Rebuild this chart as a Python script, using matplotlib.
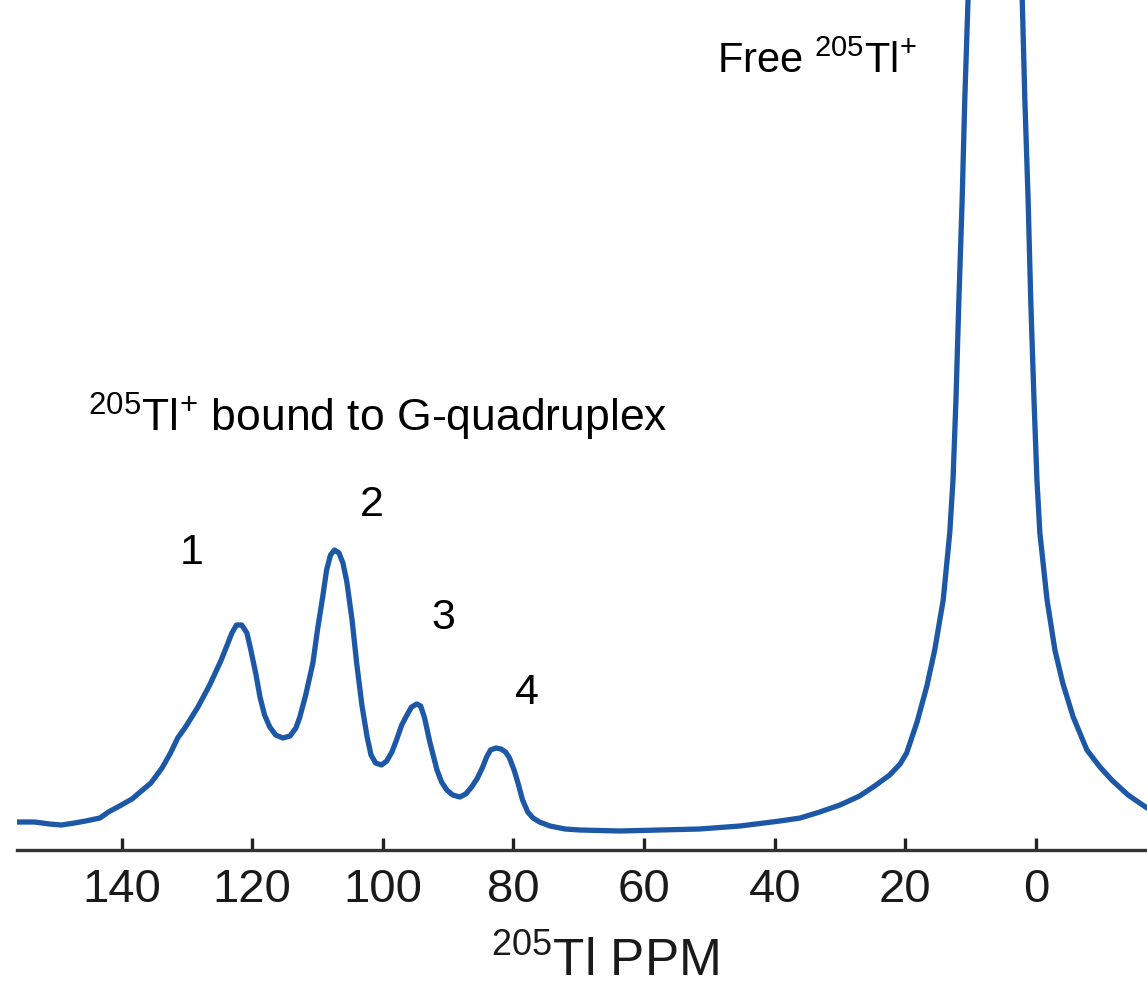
import numpy as np
import matplotlib.pyplot as plt

plt.rcParams['font.family'] = ['Liberation Sans', 'DejaVu Sans']
plt.rcParams['mathtext.fontset'] = 'custom'
plt.rcParams['mathtext.rm'] = 'Liberation Sans'
plt.rcParams['mathtext.it'] = 'Liberation Sans:italic'
plt.rcParams['mathtext.default'] = 'regular'

# --- spectrum (ppm, intensity in a.u.) ---
ppm = [157.4, 156.05, 153.3, 151.0, 149.2, 147.2, 145.5, 143.3, 142.0, 140.3,
       138.4, 135.5, 133.8, 132.5, 131.4, 130.2, 128.3, 126.5, 124.8, 123.7,
       123.1, 122.4, 121.6, 120.8, 120.2, 119.4, 118.8, 118.1, 117.3, 116.4,
       115.3, 114.2, 113.3, 112.7, 111.8, 110.7, 110.0, 109.2, 108.6, 108.0,
       107.4, 106.7, 106.1, 105.5, 104.7, 104.0, 103.2, 102.4, 101.8, 101.1,
       100.2, 99.4, 98.6, 97.9, 97.1, 96.3, 95.6, 94.8, 94.2, 93.6,
       92.8, 91.7, 91.0, 90.2, 89.3, 88.2, 87.3, 86.4, 85.5, 84.7,
       84.1, 83.5, 82.7, 81.9, 81.2, 80.6, 79.9, 79.3, 78.6, 77.8,
       77.0, 76.0, 74.4, 72.1, 69.8, 63.7, 57.6, 51.5, 45.3, 39.2,
       36.1, 33.1, 30.0, 27.0, 24.7, 22.4, 20.8, 19.8, 18.2, 16.7,
       15.5, 14.2, 13.2, 12.7, 12.25, 11.8, 11.3, 10.9, 10.4, 6.3,
       2.1, 1.7, 1.2, 0.8, 0.3, -0.15, -0.6, -1.7, -2.9, -4.1,
       -5.7, -7.8, -9.8, -11.6, -14.1, -17.0]
intensity = [29, 28, 28, 26, 25, 27, 29, 32, 38, 44,
             51, 67, 82, 97, 112, 123, 143, 165, 189, 207,
             217, 225, 225, 217, 200, 175, 153, 135, 123, 115,
             112, 114, 122, 133, 155, 187, 220, 253, 280, 295,
             300, 297, 287, 268, 230, 187, 145, 113, 95, 87,
             85, 89, 98, 110, 125, 135, 143, 146, 144, 132,
             108, 80, 68, 60, 55, 53, 56, 63, 72, 83,
             93, 100, 102, 101, 98, 92, 80, 67, 50, 38,
             32, 28, 24, 21, 20, 19, 20, 21, 24, 29,
             32, 38, 45, 54, 64, 75, 86, 97, 128, 164,
             200, 250, 317, 370, 450, 550, 650, 750, 850, 1300,
             850, 750, 650, 550, 450, 370, 317, 250, 200, 167,
             133, 100, 83, 70, 55, 42]

ticks = [140, 120, 100, 80, 60, 40, 20, 0]
peak_labels = ['1', '2', '3', '4']
peak_label_pos = [(129.2, 297), (101.7, 345), (90.8, 232), (77.9, 157)]

fig = plt.figure(figsize=(11.47, 9.85), dpi=100)
ax = fig.add_axes([17 / 1147, 135 / 985, 1130 / 1147, 850 / 985])

ax.plot(ppm, intensity, color='#1c58a6', lw=3.8, solid_joinstyle='round',
        solid_capstyle='round')

ax.set_xlim(156.0, -17.0)
ax.set_ylim(0, 850)

for s in ['top', 'right', 'left']:
    ax.spines[s].set_visible(False)
ax.spines['bottom'].set_linewidth(2.4)
ax.spines['bottom'].set_color('#333333')
ax.set_yticks([])
ax.set_xticks(ticks)
ax.tick_params(axis='x', direction='in', length=9, width=2.4, color='#222222',
               labelsize=34, pad=13, labelcolor='#1a1a1a')

# x axis title (placed by hand to sit like in the original)
fig.text(605 / 1147, 9 / 985, r'$^{205}$Tl PPM', fontsize=37, color='#1a1a1a',
         ha='center', va='baseline')

ax.text(48.9, 777, r'Free $^{205}$Tl$^{+}$', fontsize=30, ha='left', va='baseline')
ax.text(145.2, 418, r'$^{205}$Tl$^{+}$ bound to G-quadruplex', fontsize=32,
        ha='left', va='baseline')
for lab, (px, py) in zip(peak_labels, peak_label_pos):
    ax.text(px, py, lab, fontsize=31, ha='center', va='center')

fig.savefig('out.png', dpi=100)
